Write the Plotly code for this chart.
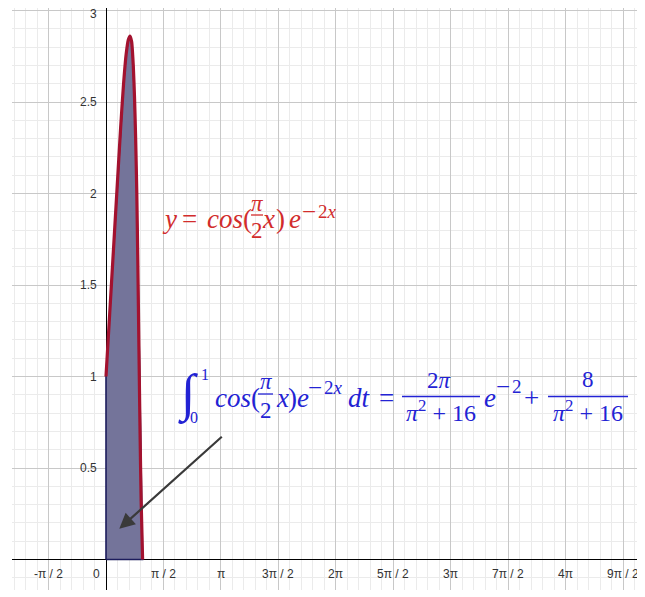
import math
import plotly.graph_objects as go

PI = math.pi

# ---- data ----
curve_x = [0.00, 0.10, 0.20, 0.30, 0.40, 0.48, 0.55, 0.61, 0.656, 0.70, 0.745, 0.78, 0.81, 0.84, 0.87, 0.90, 0.93, 0.96, 1.00]
curve_y = [1.00, 1.34, 1.68, 2.02, 2.36, 2.60, 2.76, 2.84, 2.86, 2.83, 2.70, 2.52, 2.30, 2.02, 1.62, 1.15, 0.70, 0.32, 0.00]

x_tick_mult = [-1, 0, 1, 2, 3, 4, 5, 6, 7, 8, 9]          # multiples of pi/2
x_tick_labels = ["-π / 2", "0", "π / 2", "π", "3π / 2", "2π", "5π / 2", "3π", "7π / 2", "4π", "9π / 2"]
y_tick_vals = [0.5, 1, 1.5, 2, 2.5, 3]
y_tick_labels = ["0.5", "1", "1.5", "2", "2.5", "3"]

# integration interval
a_lim, b_lim = 0.0, 1.0
arrow_tail = (3.205, 0.678)
arrow_head = (0.363, 0.168)

# ---- styling ----
OFF = 8                      # page body margin of the browser
W, H = 645 - OFF, 597 - OFF
PLOT_L, PLOT_T, PLOT_R, PLOT_B = 12, 8, 645, 590   # plot area in screen pixels
ML, MT = PLOT_L - OFF, PLOT_T - OFF
MR, MB = 645 - PLOT_R, 597 - PLOT_B
PW, PH = PLOT_R - PLOT_L, PLOT_B - PLOT_T
RED_TXT = "#d22c2c"
BLUE_TXT = "#2323d4"
CURVE = "#a3122f"
FILL = "#74749a"
NAVY = "#1c1c5c"
SERIF = "Liberation Serif"

X0_PX, X_SCALE = 106, 36.6
Y0_PX, Y_SCALE = 559.5, 183.0
x_range = [(PLOT_L - X0_PX) / X_SCALE, (PLOT_R - X0_PX) / X_SCALE]
y_range = [(Y0_PX - PLOT_B) / Y_SCALE, (Y0_PX - PLOT_T) / Y_SCALE]


def P(px, py):
    return (px - PLOT_L) / PW, (PLOT_B - py) / PH


fig = go.Figure()

# shaded region (integral area)
fx = [a_lim, a_lim] + curve_x + [b_lim, a_lim]
fy = [0, curve_y[0]] + curve_y + [0, 0]
fig.add_trace(go.Scatter(x=fx, y=fy, mode="lines", fill="toself", fillcolor=FILL,
                         line=dict(color=NAVY, width=1.6), hoverinfo="skip"))
# curve
fig.add_trace(go.Scatter(x=curve_x, y=curve_y, mode="lines",
                         line=dict(color=CURVE, width=3.2, shape="spline", smoothing=0.6),
                         hoverinfo="skip"))

ann = []
# tick labels
for m, lab in zip(x_tick_mult, x_tick_labels):
    ann.append(dict(x=m * PI / 2, y=0, xref="x", yref="y", text=lab, showarrow=False,
                    xanchor="center", yanchor="middle", yshift=-14,
                    xshift=(-10 if m == 0 else 0),
                    font=dict(family="Liberation Sans", size=12, color="#333333")))
for v, lab in zip(y_tick_vals, y_tick_labels):
    ann.append(dict(x=0, y=v, xref="x", yref="y", text=lab, showarrow=False,
                    xanchor="right", yanchor="middle", xshift=-7,
                    yshift=(-3 if v == 3 else 0),
                    font=dict(family="Liberation Sans", size=12, color="#333333")))

# arrow
ann.append(dict(x=arrow_head[0], y=arrow_head[1], ax=arrow_tail[0], ay=arrow_tail[1],
                xref="x", yref="y", axref="x", ayref="y", text="", showarrow=True,
                arrowhead=2, arrowsize=1.4, arrowwidth=2.2, arrowcolor="#3a3a3a", standoff=0))


def T(s, px, py, size, color, xa="left"):
    x, y = P(px, py)
    ann.append(dict(x=x, y=y, xref="paper", yref="paper", text=s, showarrow=False,
                    xanchor=xa, yanchor="middle", borderpad=0,
                    font=dict(family=SERIF, size=size, color=color)))


shapes = []


def BAR(px0, px1, py, color):
    x0, y0 = P(px0, py)
    x1, _ = P(px1, py)
    shapes.append(dict(type="line", xref="paper", yref="paper", x0=x0, x1=x1, y0=y0, y1=y0,
                       line=dict(color=color, width=1.3)))


MS, FS, SS = 27, 23, 19
# red formula
T("<i>y</i>", 161, 219, MS, RED_TXT)
T("=", 181, 219, MS, RED_TXT)
T("<i>cos</i>(", 206, 219, MS, RED_TXT)
T("<i>π</i>", 257, 203, FS, RED_TXT, "center")
BAR(251, 263, 215, RED_TXT)
T("2", 257, 231, FS, RED_TXT, "center")
T("<i>x</i>", 261, 219, MS, RED_TXT)
T(")", 275, 219, MS, RED_TXT)
T("<i>e</i>", 288, 219, MS, RED_TXT)
T("−", 309, 211, 25, RED_TXT, "center")
T("2<i>x</i>", 317, 211, SS, RED_TXT)

# blue formula
T("∫", 188, 394, 52, BLUE_TXT, "center")
T("1", 205, 374, 16, BLUE_TXT, "center")
T("0", 194, 418, 16, BLUE_TXT, "center")
T("<i>cos</i>(", 214, 398, MS, BLUE_TXT)
T("<i>π</i>", 266, 382, FS, BLUE_TXT, "center")
BAR(258, 273, 394, BLUE_TXT)
T("2", 266, 410, FS, BLUE_TXT, "center")
T("<i>x</i>", 275, 398, MS, BLUE_TXT)
T(")", 287, 398, MS, BLUE_TXT)
T("<i>e</i>", 296, 398, MS, BLUE_TXT)
T("−", 315, 387, 25, BLUE_TXT, "center")
T("2<i>x</i>", 323, 387, SS, BLUE_TXT)
T("<i>dt</i>", 347, 398, MS, BLUE_TXT)
T("=", 378, 398, MS, BLUE_TXT)
T("2<i>π</i>", 439, 381, FS, BLUE_TXT, "center")
BAR(402, 480, 396.5, BLUE_TXT)
T("<i>π</i><sup>2</sup> + 16", 441, 411, FS + 1, BLUE_TXT, "center")
T("<i>e</i>", 483, 398, MS, BLUE_TXT)
T("−", 503, 386, 25, BLUE_TXT, "center")
T("2", 511, 386, SS, BLUE_TXT)
T("+", 531.5, 398, MS, BLUE_TXT, "center")
T("8", 587.5, 380, FS, BLUE_TXT, "center")
BAR(548, 628, 396.5, BLUE_TXT)
T("<i>π</i><sup>2</sup> + 16", 588, 411, FS + 1, BLUE_TXT, "center")

axis_common = dict(showgrid=True, gridcolor="#c8c8c8", gridwidth=1,
                   zeroline=True, zerolinecolor="#000000", zerolinewidth=1.3,
                   showticklabels=False, ticks="", showline=False, fixedrange=True)
fig.update_layout(
    width=W, height=H, margin=dict(l=ML, r=MR, t=MT, b=MB, pad=0),
    paper_bgcolor="white", plot_bgcolor="white", showlegend=False,
    xaxis=dict(range=x_range, tick0=0, dtick=PI / 2,
               minor=dict(tick0=0, dtick=PI / 10, showgrid=True, gridcolor="#ebebeb", gridwidth=1),
               **axis_common),
    yaxis=dict(range=y_range, tick0=0, dtick=0.5,
               minor=dict(tick0=0, dtick=0.1, showgrid=True, gridcolor="#ebebeb", gridwidth=1),
               **axis_common),
    annotations=ann, shapes=shapes,
)
fig.write_html("out.html")
